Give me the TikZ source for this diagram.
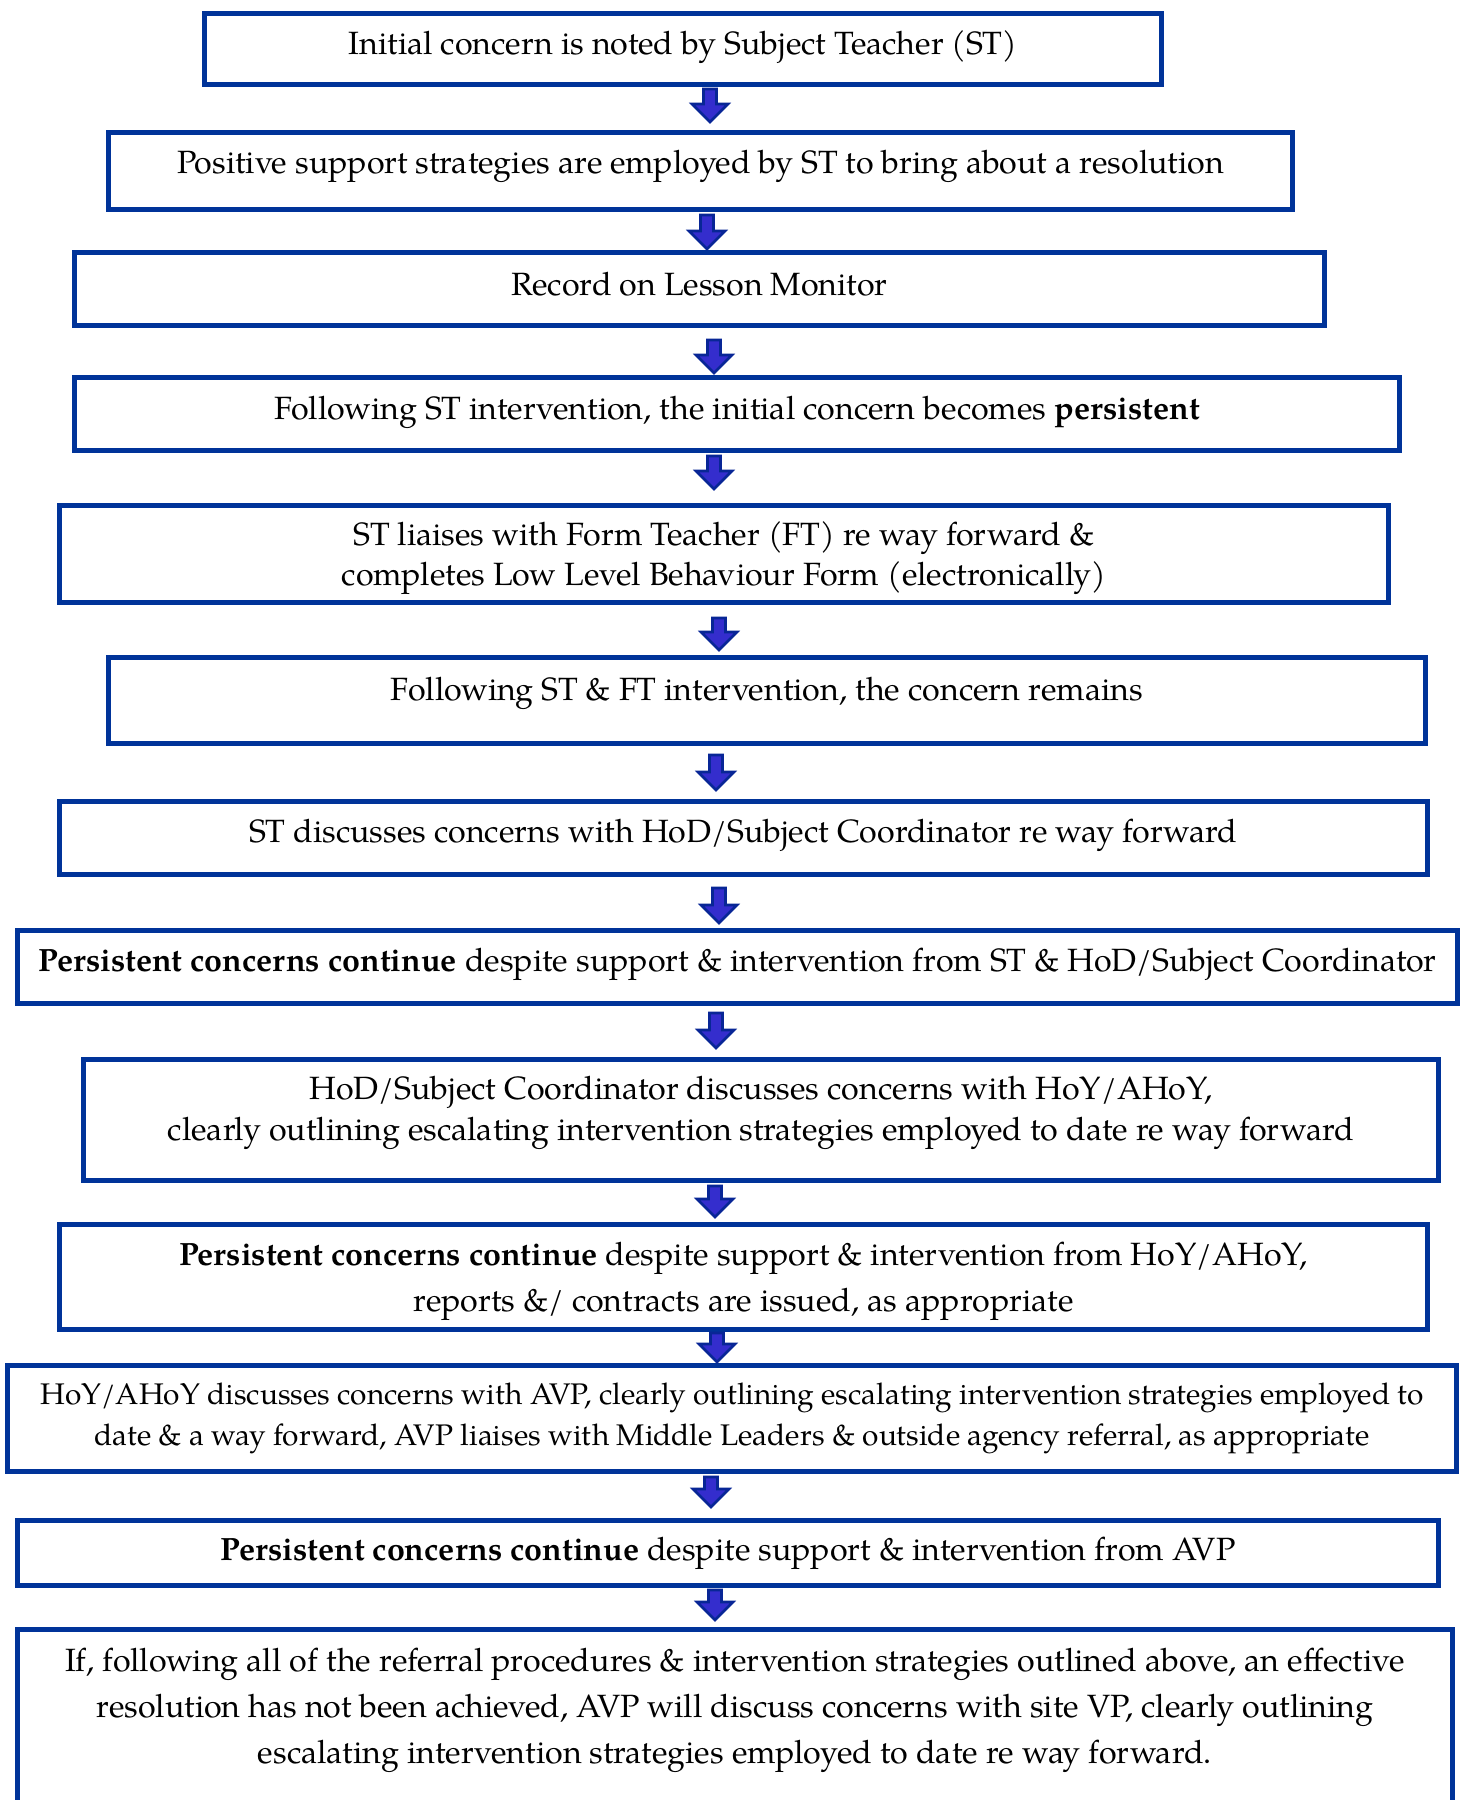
\documentclass[tikz,border=0pt]{standalone}
\usepackage{fontspec}
\setmainfont{TeX Gyre Pagella}
\usetikzlibrary{calc}
\definecolor{boxblue}{RGB}{0,51,153}
\definecolor{arrfill}{RGB}{52,45,205}
\definecolor{arrline}{RGB}{8,38,150}
\newcommand{\dnarrow}[4]{%
  \coordinate (#1) at (#2,#3);
  \filldraw[arrowsty] ({#2-6.5},#3) -- ({#2+6.5},#3) -- ({#2+6.5},{#4-18}) -- ({#2+18},{#4-18}) -- (#2,#4) -- ({#2-18},{#4-18}) -- ({#2-6.5},{#4-18}) -- cycle;}
\begin{document}
\begin{tikzpicture}[x=1pt,y=-1pt,
  boxsty/.style={draw=boxblue, line width=4.8pt, inner sep=0pt, outer sep=0pt},
  txt/.style={anchor=base, inner sep=0pt, font=\fontsize{32.2}{40}\selectfont},
  smalltxt/.style={anchor=base, inner sep=0pt, font=\fontsize{29.8}{40}\selectfont},
  arrowsty/.style={fill=arrfill, draw=arrline, line width=2.6pt, line join=miter}]
\useasboundingbox (0,0) rectangle (1467,1800);
\fill[white] (0,0) rectangle (1467,1800);
% boxes: outer edges
\newcommand{\bx}[5]{\node[boxsty, minimum width={#4-#2-4.8pt}, minimum height={#5-#3-4.8pt}] (#1) at ({(#2+#4)/2},{(#3+#5)/2}) {};}
\bx{b1}{202}{11}{1164}{87}
\bx{b2}{106}{130}{1295}{212}
\bx{b3}{72}{250}{1327}{328}
\bx{b4}{72}{375}{1402}{453}
\bx{b5}{57}{503}{1391}{605}
\bx{b6}{106}{655}{1428}{746}
\bx{b7}{57}{799}{1430}{877}
\bx{b8}{15}{928}{1460}{1006}
\bx{b9}{81}{1057}{1441}{1183}
\bx{b10}{57}{1222}{1430}{1332}
\bx{b11}{5}{1363}{1459}{1474}
\bx{b12}{15}{1518}{1441}{1588}
\node[boxsty, minimum width=1435.2pt, minimum height=200pt, anchor=north] (b13) at (735,1629.4) {};
% texts
\node[txt] (t1) at (b1.center |- 0,54) {Initial concern is noted by Subject Teacher (ST)};
\node[txt] (t2) at (b2.center |- 0,173) {Positive support strategies are employed by ST to bring about a resolution};
\node[txt] (t3) at (b3.center |- 0,295) {Record on Lesson Monitor};
\node[txt] (t4) at (b4.center |- 0,419) {Following ST intervention, the initial concern becomes \textbf{persistent}};
\node[txt] (t5a) at (b5.center |- 0,545) {ST liaises with Form Teacher (FT) re way forward \&};
\node[txt] (t5b) at (b5.center |- 0,585) {completes Low Level Behaviour Form (electronically)};
\node[txt] (t6) at (b6.center |- 0,700) {Following ST \& FT intervention, the concern remains};
\node[txt] (t7) at (b7.center |- 0,842) {ST discusses concerns with HoD/Subject Coordinator re way forward};
\node[txt] (t8) at (b8.center |- 0,971) {\textbf{Persistent concerns continue} despite support \& intervention from ST \& HoD/Subject Coordinator};
\node[txt] (t9a) at (b9.center |- 0,1099) {HoD/Subject Coordinator discusses concerns with HoY/AHoY,};
\node[txt] (t9b) at (b9.center |- 0,1140) {clearly outlining escalating intervention strategies employed to date re way forward};
\node[txt] (t10a) at (b10.center |- 0,1265) {\textbf{Persistent concerns continue} despite support \& intervention from HoY/AHoY,};
\node[txt] (t10b) at (b10.center |- 0,1311) {reports \&/ contracts are issued, as appropriate};
\node[smalltxt] (t11a) at (b11.center |- 0,1404) {HoY/AHoY discusses concerns with AVP, clearly outlining escalating intervention strategies employed to};
\node[smalltxt] (t11b) at (b11.center |- 0,1445) {date \& a way forward, AVP liaises with Middle Leaders \& outside agency referral, as appropriate};
\node[txt] (t12) at (b12.center |- 0,1560) {\textbf{Persistent concerns continue} despite support \& intervention from AVP};
\node[txt] (t13a) at (b13.center |- 0,1671) {If, following all of the referral procedures \& intervention strategies outlined above, an effective};
\node[txt] (t13b) at (b13.center |- 0,1717) {resolution has not been achieved, AVP will discuss concerns with site VP, clearly outlining};
\node[txt] (t13c) at (b13.center |- 0,1763) {escalating intervention strategies employed to date re way forward.};
% arrows
\dnarrow{a1}{710}{89}{122}
\dnarrow{a2}{707}{215}{249}
\dnarrow{a3}{714}{340}{373}
\dnarrow{a4}{714}{456}{489}
\dnarrow{a5}{719}{618}{650}
\dnarrow{a6}{716}{755}{790}
\dnarrow{a7}{719}{888}{923}
\dnarrow{a8}{716}{1013}{1048}
\dnarrow{a9}{715}{1186}{1217}
\dnarrow{a10}{717}{1333}{1362}
\dnarrow{a11}{711}{1477}{1507}
\dnarrow{a12}{715}{1590}{1620}
\end{tikzpicture}
\end{document}
